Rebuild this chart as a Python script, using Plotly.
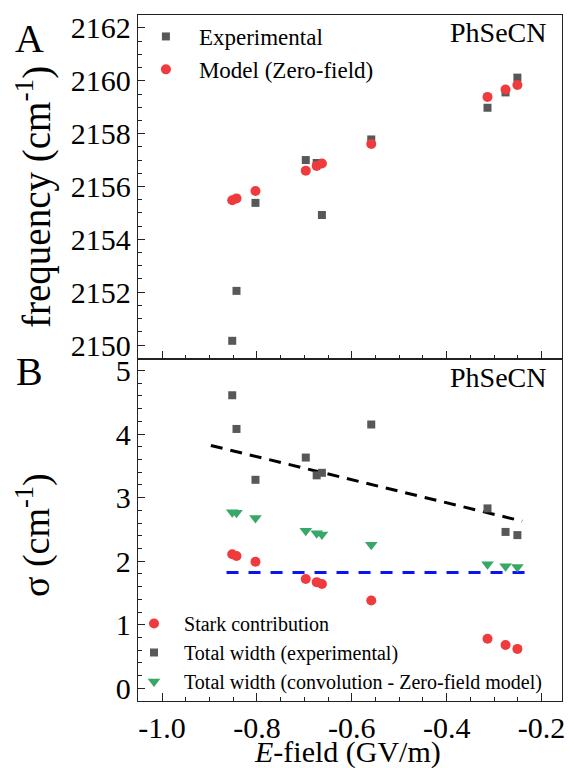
import plotly.graph_objects as go

# ---------------- data ----------------
e_field = [-0.852, -0.843, -0.803, -0.697, -0.674, -0.663, -0.559, -0.314, -0.276, -0.251]
freq_experimental = [2150.16, 2152.05, 2155.38, 2157.00, 2156.89, 2154.92, 2157.78, 2158.98, 2159.56, 2160.12]
freq_model = [2155.48, 2155.55, 2155.83, 2156.60, 2156.78, 2156.87, 2157.61, 2159.39, 2159.67, 2159.84]
sigma_stark = [2.11, 2.08, 1.99, 1.72, 1.67, 1.64, 1.38, 0.78, 0.68, 0.62]
sigma_total_exp = [4.61, 4.08, 3.28, 3.63, 3.35, 3.39, 4.15, 2.83, 2.46, 2.41]
sigma_total_conv = [2.77, 2.76, 2.68, 2.48, 2.44, 2.42, 2.26, 1.95, 1.92, 1.91]
fit_exp_x = [-0.897, -0.241]
fit_exp_y = [3.82, 2.63]
fit_conv_x = [-0.864, -0.231]
fit_conv_y = [1.82, 1.82]

FONT = "Liberation Serif"
GREY = "#585858"
RED = "#ef3b3e"
GREEN = "#37a868"

fig = go.Figure()

# top panel
fig.add_trace(go.Scatter(x=e_field, y=freq_experimental, mode="markers", name="Experimental",
                         marker=dict(symbol="square", size=8, color=GREY),
                         xaxis="x2", yaxis="y2", legend="legend"))
fig.add_trace(go.Scatter(x=e_field, y=freq_model, mode="markers", name="Model (Zero-field)",
                         marker=dict(symbol="circle", size=10, color=RED),
                         xaxis="x2", yaxis="y2", legend="legend"))

# bottom panel
fig.add_trace(go.Scatter(x=fit_exp_x, y=fit_exp_y, mode="lines", showlegend=False,
                         line=dict(color="black", width=3, dash="12px,8px"),
                         xaxis="x", yaxis="y"))
fig.add_trace(go.Scatter(x=fit_conv_x, y=fit_conv_y, mode="lines", showlegend=False,
                         line=dict(color="#0a14f0", width=3, dash="12px,10px"),
                         xaxis="x", yaxis="y"))
fig.add_trace(go.Scatter(x=e_field, y=sigma_stark, mode="markers", name="Stark contribution",
                         marker=dict(symbol="circle", size=10, color=RED),
                         xaxis="x", yaxis="y", legend="legend2"))
fig.add_trace(go.Scatter(x=e_field, y=sigma_total_exp, mode="markers", name="Total width (experimental)",
                         marker=dict(symbol="square", size=8, color=GREY),
                         xaxis="x", yaxis="y", legend="legend2"))
fig.add_trace(go.Scatter(x=e_field, y=sigma_total_conv, mode="markers",
                         name="Total width (convolution - Zero-field model)",
                         marker=dict(symbol="triangle-down", size=11, color=GREEN),
                         xaxis="x", yaxis="y", legend="legend2"))

split = 0.4985
xr = [-1.0506, -0.157]
axis_common = dict(showline=True, linecolor="#222", linewidth=1.3, mirror=True,
                   ticks="inside", tickcolor="#222", showgrid=False, zeroline=False,
                   automargin=False,
                   tickfont=dict(family=FONT, size=30, color="black"))

fig.update_layout(
    template="none",
    width=569, height=768,
    margin=dict(l=138, r=7, t=15, b=67, autoexpand=False),
    paper_bgcolor="white", plot_bgcolor="white",
    font=dict(family=FONT, color="black"),
    xaxis=dict(axis_common, domain=[0, 1], range=xr, anchor="y",
               tickvals=[-1.0, -0.8, -0.6, -0.4, -0.2], ticktext=["-1.0", "-0.8", "-0.6", "-0.4", "-0.2"],
               ticklen=8,
               minor=dict(ticks="inside", dtick=0.05, ticklen=4, tickcolor="#222")),
    yaxis=dict(axis_common, domain=[0, split], range=[-0.2, 5.18], anchor="x",
               tickvals=[0, 1, 2, 3, 4, 5], ticklen=7,
               minor=dict(ticks="inside", dtick=0.2, ticklen=4, tickcolor="#222")),
    xaxis2=dict(axis_common, domain=[0, 1], range=xr, anchor="y2", showticklabels=False,
                tickvals=[-1.0, -0.8, -0.6, -0.4, -0.2], ticklen=8,
                minor=dict(ticks="inside", dtick=0.05, ticklen=4, tickcolor="#222")),
    yaxis2=dict(axis_common, domain=[split, 1], range=[2149.47, 2162.49], anchor="x2",
                tickvals=[2150, 2152, 2154, 2156, 2158, 2160, 2162], ticklen=7,
                minor=dict(ticks="inside", dtick=0.5, ticklen=4, tickcolor="#222")),
    legend=dict(x=-0.012, y=1.0, xanchor="left", yanchor="top", bgcolor="rgba(0,0,0,0)",
                font=dict(family=FONT, size=23), itemwidth=56, tracegroupgap=0),
    legend2=dict(x=-0.033, y=0.0, xanchor="left", yanchor="bottom", bgcolor="rgba(0,0,0,0)",
                 font=dict(family=FONT, size=20), itemwidth=50, tracegroupgap=0),
    annotations=[
        dict(text="frequency (cm<sup>-1</sup>)", x=-0.245, y=0.735, xref="paper", yref="paper",
             showarrow=False, textangle=-90, xanchor="center", yanchor="middle",
             font=dict(family=FONT, size=39)),
        dict(text="σ (cm<sup>-1</sup>)", x=-0.245, y=0.242, xref="paper", yref="paper",
             showarrow=False, textangle=-90, xanchor="center", yanchor="middle",
             font=dict(family=FONT, size=38)),
        dict(text="<i>E</i>-field (GV/m)", x=0.493, y=-0.0743, xref="paper", yref="paper",
             showarrow=False, xanchor="center", yanchor="middle",
             font=dict(family=FONT, size=30)),
        dict(text="A", x=-0.255, y=0.966, xref="paper", yref="paper", showarrow=False,
             xanchor="center", yanchor="middle", font=dict(family=FONT, size=40)),
        dict(text="B", x=-0.255, y=0.4796, xref="paper", yref="paper", showarrow=False,
             xanchor="center", yanchor="middle", font=dict(family=FONT, size=40)),
        dict(text="PhSeCN", x=0.967, y=0.974, xref="paper", yref="paper", showarrow=False,
             xanchor="right", yanchor="middle", font=dict(family=FONT, size=28)),
        dict(text="PhSeCN", x=0.967, y=0.471, xref="paper", yref="paper", showarrow=False,
             xanchor="right", yanchor="middle", font=dict(family=FONT, size=28)),
    ],
)

fig.write_html("out.html", config={"displayModeBar": False},
               post_script="document.body.style.margin='0';document.body.style.overflow='hidden';")
